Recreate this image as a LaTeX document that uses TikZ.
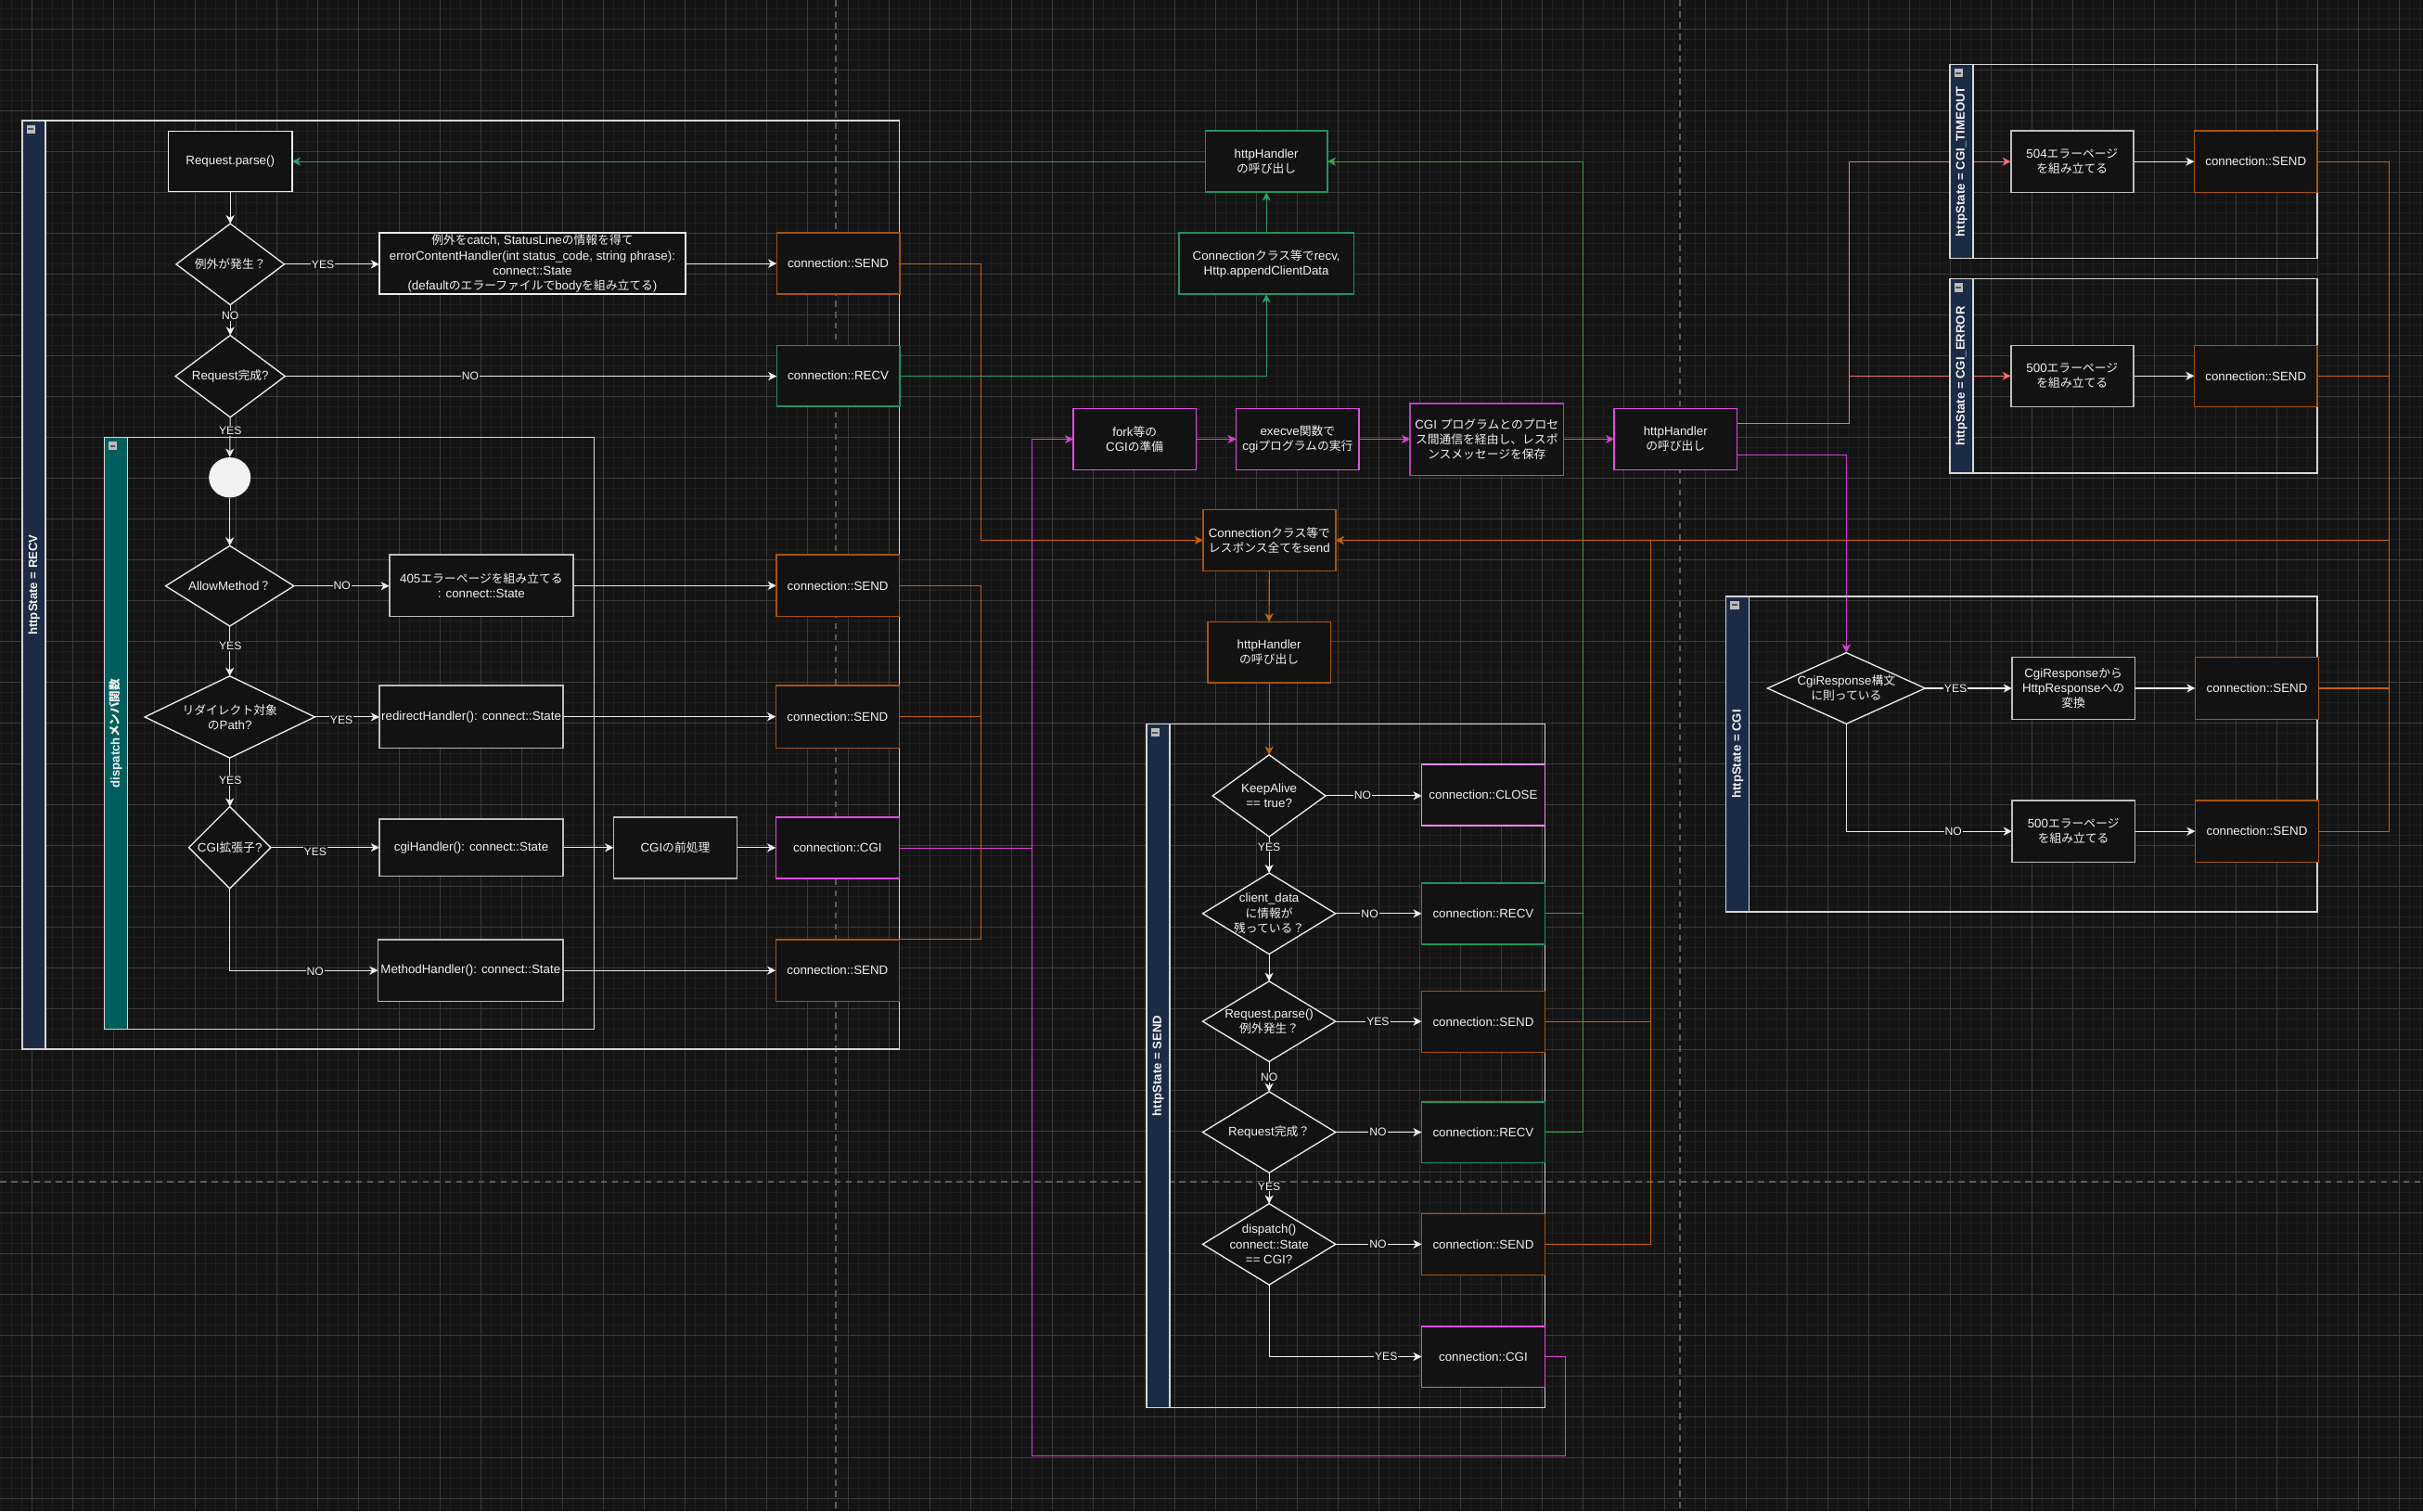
\documentclass[tikz,border=0pt]{standalone}
\usepackage{fontspec}
\setmainfont{Liberation Sans}
\newfontfamily\latinfont{Liberation Sans}
\newfontfamily\cjkfont[Scale=0.96]{Noto Sans CJK JP}
% switch to the CJK family automatically for kana, kanji and full-width forms
\newXeTeXintercharclass\jpclass
\newcount\jpc
\jpc="3000
\loop
  \XeTeXcharclass\jpc=\jpclass
  \advance\jpc by 1
\ifnum\jpc<"A000 \repeat
\jpc="FF00
\loop
  \XeTeXcharclass\jpc=\jpclass
  \advance\jpc by 1
\ifnum\jpc<"FFF0 \repeat
\XeTeXinterchartoks 0 \jpclass = {\cjkfont}
\XeTeXinterchartoks 4095 \jpclass = {\cjkfont}
\XeTeXinterchartoks \jpclass 0 = {\latinfont}
\XeTeXinterchartoks \jpclass 4095 = {\latinfont}
\XeTeXinterchartokenstate=1

\usetikzlibrary{arrows.meta,shapes.geometric}

\definecolor{bg}{HTML}{141414}
\definecolor{gminor}{HTML}{1F1F1F}
\definecolor{gmajor}{HTML}{3A3A3A}
\definecolor{pagedash}{HTML}{5C5C5C}
\definecolor{txt}{HTML}{F2F2F2}
\definecolor{nodebg}{HTML}{121212}
\definecolor{wline}{HTML}{EDEDED}
\definecolor{gboxc}{HTML}{BDBDBD}
\definecolor{contc}{HTML}{D6D6D6}
\definecolor{navy}{HTML}{1B2B45}
\definecolor{tealstrip}{HTML}{005F5E}
\definecolor{orgbox}{HTML}{A65410}
\definecolor{orgline}{HTML}{C4620F}
\definecolor{grnbox}{HTML}{23925E}
\definecolor{grnline}{HTML}{2E9D6A}
\definecolor{grnline2}{HTML}{3B9F48}
\definecolor{mag}{HTML}{E04FE0}
\definecolor{magline}{HTML}{D643D6}
\definecolor{magdark}{HTML}{B343B3}
\definecolor{pinkc}{HTML}{F58AF5}
\definecolor{salmon}{HTML}{F76D6D}
\definecolor{iconc}{HTML}{BDBDBD}
\definecolor{iconbar}{HTML}{555555}
\definecolor{ellc}{HTML}{F2F2F2}

\newcommand\nodefont{\fontsize{8}{9.7}\selectfont}

\pgfdeclarelayer{gridl}
\pgfdeclarelayer{edges}
\pgfsetlayers{gridl,edges,main}

\tikzset{
  base/.style={font=\nodefont, text=txt, align=center},
  box/.style={base, rectangle, draw=wline, fill=nodebg, line width=0.9pt, inner sep=1pt, outer sep=0pt},
  gbox/.style={box, draw=gboxc},
  sendbox/.style={box, draw=orgbox},
  recvbox/.style={box, draw=grnbox},
  cgibox/.style={box, draw=mag},
  dia/.style={diamond, draw=wline, fill=nodebg, line width=0.8pt, inner sep=0pt, outer sep=0pt},
  dtext/.style={base, inner sep=0pt},
  lbl/.style={font=\fontsize{7.3}{8}\selectfont, text=txt, fill=bg, inner sep=0.6pt},
  lanetxt/.style={font=\fontsize{7.9}{9}\selectfont\bfseries, text=txt, rotate=90, inner sep=0pt},
  cline/.style={line width=0.65pt},
  arr/.style={-{Stealth[length=5.5pt,width=5.5pt,inset=1.6pt]}},
  wl/.style={cline, draw=wline},
  ol/.style={cline, draw=orgline},
  gl/.style={cline, draw=grnline},
  gl2/.style={cline, draw=grnline2},
  ml/.style={cline, draw=magline},
  sl/.style={cline, draw=salmon},
}

% box: name, x1, y1, x2, y2, style, text
\newcommand\bx[7]{\node[#6, minimum width={(#4)-(#2)}, minimum height={(#5)-(#3)}] (#1) at ({((#2)+(#4))/2},{((#3)+(#5))/2}) {#7};}
% decision: name, cx, cy, width, height, text
\newcommand\dm[6]{\node[dia, minimum width=#4, minimum height=#5] (#1) at (#2,#3) {};\node[dtext] (#1t) at (#1) {#6};}
% swimlane: name, x1, y1, x2, y2, strip colour, title
\newcommand\lane[7]{%
  \draw[draw=contc, line width=0.9pt] (#2,#3) rectangle (#4,#5);
  \draw[draw=contc, fill=#6, line width=0.9pt] (#2,#3) rectangle ({#2+15},#5);
  \fill[iconc] ({#2+2.8},{#3+2.8}) rectangle ({#2+8.3},{#3+8.3});
  \draw[iconbar, line width=1pt] ({#2+3.8},{#3+5.55}) -- ({#2+7.3},{#3+5.55});
  \node[lanetxt] (#1) at ({#2+7.5},{(#3+#5)/2}) {#7};
}

\begin{document}
\begin{tikzpicture}[x=1pt,y=-1pt]
\path[use as bounding box] (0,0) rectangle (1568,978);

% canvas grid and page breaks
\begin{pgfonlayer}{gridl}
  \fill[bg] (0,0) rectangle (1568,978);
  \foreach \i in {0,...,237} {\draw[gminor, line width=0.6pt] ({0.79+\i*6.603},0) -- ({0.79+\i*6.603},978);}
  \foreach \i in {0,...,148} {\draw[gminor, line width=0.6pt] (0,{5.59+\i*6.603}) -- (1568,{5.59+\i*6.603});}
  \foreach \i in {0,...,59} {\draw[gmajor, line width=0.6pt] ({20.6+\i*26.41},0) -- ({20.6+\i*26.41},978);}
  \foreach \i in {0,...,36} {\draw[gmajor, line width=0.6pt] (0,{18.8+\i*26.41}) -- (1568,{18.8+\i*26.41});}
  \draw[pagedash, line width=0.9pt, dash pattern=on 4pt off 3.2pt]
    (541,0) -- (541,978) (1087.2,0) -- (1087.2,978) (0,764.8) -- (1568,764.8);
\end{pgfonlayer}

% swimlanes
\lane{recvlane}{14.5}{78}{582}{679}{navy}{httpState = RECV}
\lane{displane}{67.4}{283}{384.4}{666}{tealstrip}{dispatchメンバ関数}
\lane{sendlane}{742}{468.6}{999.7}{910.8}{navy}{httpState = SEND}
\lane{tolane}{1261.8}{41.8}{1499.6}{167.3}{navy}{httpState = CGI\_TIMEOUT}
\lane{errlane}{1261.8}{180.5}{1499.6}{306.2}{navy}{httpState = CGI\_ERROR}
\lane{cgilane}{1117}{386}{1499.6}{590}{navy}{httpState = CGI}

% ---- RECV ----
\bx{rp}{109}{85}{189}{124}{box}{Request.parse()}
\dm{d1}{149}{171}{70}{52.5}{例外が発生？}
\bx{catch}{245.5}{150.8}{443.6}{190.3}{box}{例外をcatch, StatusLineの情報を得て\\errorContentHandler(int status\_code, string phrase):\\connect::State\\(defaultのエラーファイルでbodyを組み立てる)}
\bx{send1}{502.6}{150.8}{582.3}{190.3}{sendbox}{connection::SEND}
\dm{d2}{149}{243.5}{71}{53}{Request完成?}
\bx{recv1}{502.6}{223.5}{582.3}{263}{recvbox}{connection::RECV}
\node[ellipse, fill=ellc, minimum width=27, minimum height=26, inner sep=0pt] (start) at (148.7,309) {};
\dm{d3}{148.7}{379.2}{83}{52}{AllowMethod？}
\bx{e405}{252}{359}{371}{399}{gbox}{405エラーページを組み立てる\\: connect::State}
\bx{send2}{502.3}{359}{582}{399}{sendbox}{connection::SEND}
\dm{d4}{148.7}{464}{110}{53}{リダイレクト対象\\のPath?}
\bx{redir}{245.5}{443.6}{364.5}{484}{gbox}{redirectHandler(): connect::State}
\bx{send3}{502}{443.6}{582}{484}{sendbox}{connection::SEND}
\dm{d5}{148.7}{548.5}{53}{53}{CGI拡張子?}
\bx{cgih}{245.5}{530}{364.5}{567}{gbox}{cgiHandler(): connect::State}
\bx{pre}{397}{528.8}{477}{568.4}{gbox}{CGIの前処理}
\bx{rcgi}{502}{529}{582}{568.4}{cgibox}{connection::CGI}
\bx{mh}{244.6}{608}{364.5}{648}{gbox}{MethodHandler(): connect::State}
\bx{send4}{502}{608}{582}{648}{sendbox}{connection::SEND}

% ---- centre column ----
\bx{hh1}{780}{84.6}{859}{124.4}{recvbox}{httpHandler\\の呼び出し}
\bx{crecv}{763}{150.8}{876}{190.4}{recvbox}{Connectionクラス等でrecv,\\Http.appendClientData}
\bx{fork}{694.6}{264.5}{774}{304}{cgibox}{fork等の\\CGIの準備}
\bx{exec}{800}{264.5}{879.5}{304}{cgibox}{execve関数で\\cgiプログラムの実行}
\bx{ipc}{912.5}{261}{1011.8}{307.5}{box, draw=magdark}{CGI プログラムとのプロセ\\ス間通信を経由し、レスポ\\ンスメッセージを保存}
\bx{hh3}{1044.6}{264.5}{1124}{304}{cgibox}{httpHandler\\の呼び出し}
\bx{csend}{778.5}{329.8}{864.3}{369.4}{sendbox}{Connectionクラス等で\\レスポンス全てをsend}
\bx{hh2}{781.6}{402.4}{861}{441.8}{sendbox}{httpHandler\\の呼び出し}

% ---- SEND ----
\dm{ka}{821.3}{515}{73}{53}{KeepAlive\\== true?}
\bx{close}{920}{494.7}{999.7}{534.3}{box, draw=pinkc}{connection::CLOSE}
\dm{cd}{821.3}{591.2}{86}{52.5}{client\_data\\に情報が\\残っている？}
\bx{srecv1}{920}{571.5}{999.7}{611}{recvbox}{connection::RECV}
\dm{rpd}{821.3}{661}{86}{52}{Request.parse()\\例外発生？}
\bx{ssend1}{920}{641.4}{999.7}{681}{sendbox}{connection::SEND}
\dm{rcd}{821.3}{732.7}{86}{52.5}{Request完成？}
\bx{srecv2}{920}{713}{999.7}{752.4}{recvbox}{connection::RECV}
\dm{dsp}{821.3}{805.2}{86}{52.5}{dispatch()\\connect::State\\== CGI?}
\bx{ssend2}{920}{785.5}{999.7}{825.2}{sendbox}{connection::SEND}
\bx{scgi}{920}{858.3}{999.7}{897.6}{cgibox}{connection::CGI}

% ---- CGI_TIMEOUT / CGI_ERROR / CGI ----
\bx{e504}{1301.3}{84.6}{1380.6}{124.5}{gbox}{504エラーページ\\を組み立てる}
\bx{tsend}{1420}{84.6}{1499.6}{124.5}{sendbox}{connection::SEND}
\bx{e500}{1301.3}{223.5}{1380.6}{263.1}{gbox}{500エラーページ\\を組み立てる}
\bx{esend}{1420}{223.5}{1499.6}{263.1}{sendbox}{connection::SEND}
\dm{cgd}{1194.8}{445.4}{102}{46}{CgiResponse構文\\に則っている}
\bx{conv}{1302}{425.4}{1381.5}{465.4}{gbox}{CgiResponseから\\HttpResponseへの\\変換}
\bx{gsend1}{1420.6}{425.4}{1500.5}{465.4}{sendbox}{connection::SEND}
\bx{e500b}{1302}{518}{1381.5}{558}{gbox}{500エラーページ\\を組み立てる}
\bx{gsend2}{1420.6}{518}{1500.5}{558}{sendbox}{connection::SEND}

% junction columns
\coordinate (ox) at (635,0);
\coordinate (ox2) at (1068,0);
\coordinate (ox3) at (1546,0);
\coordinate (gx) at (1024.5,0);
\coordinate (mx) at (668,0);
\coordinate (sx) at (1196.5,0);
\coordinate (mb) at (1013,942);

\begin{pgfonlayer}{edges}
  % RECV flow
  \draw[wl,arr] (rp.south) -- (d1.north);
  \draw[wl,arr] (d1.east) -- (d1.east -| catch.west);
  \draw[wl,arr] (catch.east) -- (catch.east -| send1.west);
  \draw[wl,arr] (d1.south) -- (d2.north);
  \draw[wl,arr] (d2.east) -- (d2.east -| recv1.west);
  \draw[wl,arr] (d2.south) -- (start.north);
  \draw[wl,arr] (start.south) -- (d3.north);
  \draw[wl,arr] (d3.east) -- (d3.east -| e405.west);
  \draw[wl,arr] (e405.east) -- (e405.east -| send2.west);
  \draw[wl,arr] (d3.south) -- (d4.north);
  \draw[wl,arr] (d4.east) -- (d4.east -| redir.west);
  \draw[wl,arr] (redir.east) -- (redir.east -| send3.west);
  \draw[wl,arr] (d4.south) -- (d5.north);
  \draw[wl,arr] (d5.east) -- (d5.east -| cgih.west);
  \draw[wl,arr] (cgih.east) -- (cgih.east -| pre.west);
  \draw[wl,arr] (pre.east) -- (pre.east -| rcgi.west);
  \draw[wl,arr] (d5.south) |- (mh.west);
  \draw[wl,arr] (mh.east) -- (mh.east -| send4.west);

  % receive path
  \draw[gl,arr] (recv1.east) -- (recv1.east -| crecv.south) -- (crecv.south);
  \draw[gl,arr] (crecv.north) -- (hh1.south);
  \draw[gl,arr] (hh1.west) -- (hh1.west -| rp.east);
  \draw[gl2,arr] (srecv1.east) -- (srecv1.east -| gx) |- (hh1.east);
  \draw[gl2] (srecv2.east) -- (srecv2.east -| gx) -- (srecv1.east -| gx);

  % send path
  \draw[ol,arr] (send1.east) -- (send1.east -| ox) |- (csend.west);
  \draw[ol] (send2.east) -- (send2.east -| ox);
  \draw[ol] (send3.east) -- (send3.east -| ox);
  \draw[ol] (send4.north east) -- (send4.north east -| ox) -- (send2.east -| ox);
  \draw[ol,arr] (csend.south) -- (hh2.north);
  \draw[ol,arr] (hh2.south) -- (ka.north);
  \draw[ol,arr] (ssend1.east) -- (ssend1.east -| ox2) |- (csend.east);
  \draw[ol] (ssend2.east) -- (ssend2.east -| ox2) -- (ssend1.east -| ox2);
  \draw[ol] (tsend.east) -- (tsend.east -| ox3) -- (gsend2.east -| ox3) -- (gsend2.east);
  \draw[ol] (esend.east) -- (esend.east -| ox3);
  \draw[ol] (gsend1.east) -- (gsend1.east -| ox3);
  \draw[ol] (csend.east -| ox3) -- (csend.east -| ox2);

  % CGI path
  \draw[ml,arr] (rcgi.east) -- (rcgi.east -| mx) |- (fork.west);
  \draw[ml,arr] (fork.east) -- (exec.west);
  \draw[ml,arr] (exec.east) -- (exec.east -| ipc.west);
  \draw[ml,arr] (ipc.east) -- (ipc.east -| hh3.west);
  \draw[ml] (scgi.east) -| (mb) -| (rcgi.east -| mx);
  \draw[ml,arr] ([yshift=-10pt]hh3.east) -| (cgd.north);
  \draw[sl,arr] ([yshift=10pt]hh3.east) -| (sx |- e504.west) -- (e504.west);
  \draw[sl,arr] (sx |- e500.west) -- (e500.west);

  % error / CGI lanes
  \draw[wl,arr] (e504.east) -- (tsend.west);
  \draw[wl,arr] (e500.east) -- (esend.west);
  \draw[wl,arr] (cgd.east) -- (cgd.east -| conv.west);
  \draw[wl,arr] (conv.east) -- (gsend1.west);
  \draw[wl,arr] (cgd.south) |- (e500b.west);
  \draw[wl,arr] (e500b.east) -- (gsend2.west);

  % SEND flow
  \draw[wl,arr] (ka.east) -- (ka.east -| close.west);
  \draw[wl,arr] (ka.south) -- (cd.north);
  \draw[wl,arr] (cd.east) -- (cd.east -| srecv1.west);
  \draw[wl,arr] (cd.south) -- (rpd.north);
  \draw[wl,arr] (rpd.east) -- (rpd.east -| ssend1.west);
  \draw[wl,arr] (rpd.south) -- (rcd.north);
  \draw[wl,arr] (rcd.east) -- (rcd.east -| srecv2.west);
  \draw[wl,arr] (rcd.south) -- (dsp.north);
  \draw[wl,arr] (dsp.east) -- (dsp.east -| ssend2.west);
  \draw[wl,arr] (dsp.south) |- (scgi.west);
\end{pgfonlayer}

% branch labels
\node[lbl] (l1) at (209,171) {YES};
\node[lbl] (l2) at (149,204.5) {NO};
\node[lbl] (l3) at (304.4,243.5) {NO};
\node[lbl] (l4) at (149,279) {YES};
\node[lbl] (l5) at (221.3,379) {NO};
\node[lbl] (l6) at (149,418) {YES};
\node[lbl] (l7) at (221,466) {YES};
\node[lbl] (l8) at (149,505) {YES};
\node[lbl] (l9) at (204,551.5) {YES};
\node[lbl] (l10) at (204,628.5) {NO};
\node[lbl] (l11) at (881.8,514.5) {NO};
\node[lbl] (l12) at (821.3,548) {YES};
\node[lbl] (l13) at (886.4,591.2) {NO};
\node[lbl] (l14) at (891.7,661) {YES};
\node[lbl] (l15) at (821.3,697.3) {NO};
\node[lbl] (l16) at (891.7,732.7) {NO};
\node[lbl] (l17) at (821.3,767.8) {YES};
\node[lbl] (l18) at (891.7,805.2) {NO};
\node[lbl] (l19) at (897,878) {YES};
\node[lbl] (l20) at (1265.5,445.4) {YES};
\node[lbl] (l21) at (1264,538) {NO};
\end{tikzpicture}
\end{document}
